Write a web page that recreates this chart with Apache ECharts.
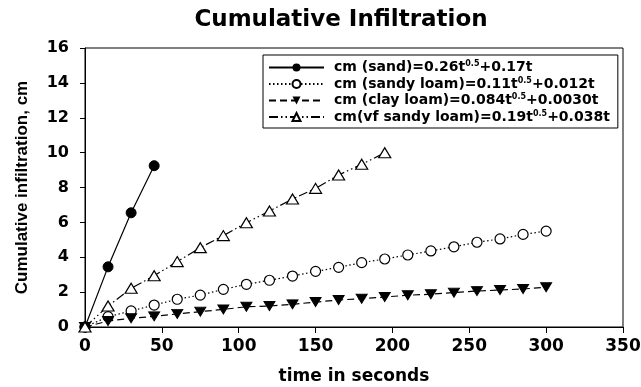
<!DOCTYPE html>
<html>
<head>
<meta charset="utf-8">
<script src="https://cdn.jsdelivr.net/npm/echarts@6/dist/echarts.min.js"></script>
<style>
  html, body { margin: 0; padding: 0; background: #fff; }
  #chart { width: 641px; height: 387px; }
</style>
</head>
<body>
<div id="chart"></div>
<script>
// time in seconds
const sandTime = [0, 15, 30, 45];
const loamTime = [0, 15, 30, 45, 60, 75, 90, 105, 120, 135, 150, 165, 180, 195, 210, 225, 240, 255, 270, 285, 300];
const vfTime = [0, 15, 30, 45, 60, 75, 90, 105, 120, 135, 150, 165, 180, 195];

// cumulative infiltration, cm
const sand = [0, 3.45, 6.55, 9.25];
const sandyLoam = [0, 0.59, 0.92, 1.26, 1.59, 1.83, 2.16, 2.45, 2.68, 2.92, 3.19, 3.42, 3.69, 3.9, 4.13, 4.36, 4.6, 4.86, 5.05, 5.31, 5.5];
const clayLoam = [0, 0.34, 0.5, 0.61, 0.75, 0.88, 1.01, 1.16, 1.2, 1.3, 1.43, 1.55, 1.62, 1.72, 1.82, 1.88, 1.97, 2.06, 2.12, 2.18, 2.28];
const vfSandyLoam = [0, 1.2, 2.22, 2.94, 3.75, 4.55, 5.24, 5.98, 6.65, 7.34, 7.95, 8.72, 9.33, 9.99];

const names = ['sand', 'sandyLoam', 'clayLoam', 'vf'];
const legendText = {
    sand: 'cm (sand)=0.26t{sup|0.5}+0.17t',
    sandyLoam: 'cm (sandy loam)=0.11t{sup|0.5}+0.012t',
    clayLoam: 'cm (clay loam)=0.084t{sup|0.5}+0.0030t',
    vf: 'cm(vf sandy loam)=0.19t{sup|0.5}+0.038t'
};

const font = '"DejaVu Sans", sans-serif';
const narrowFont = '"Liberation Sans", Arial, sans-serif';

function pairs(t, v) {
    return t.map((x, i) => [x, v[i]]);
}

const chart = echarts.init(document.getElementById('chart'));

const axisCommon = {
    axisLine: { show: true, onZero: false, lineStyle: { color: '#000', width: 1 } },
    axisTick: { show: true, length: 5, lineStyle: { color: '#000' } },
    splitLine: { show: false }
};

const option = {
    backgroundColor: '#fff',
    animation: false,
    title: {
        text: 'Cumulative Infiltration',
        left: 336,
        top: 4,
        textAlign: 'center',
        textStyle: { color: '#000', fontFamily: font, fontWeight: 'bold', fontSize: 23 }
    },
    grid: {
        left: 85,
        right: 18,
        top: 48,
        bottom: 60,
        containLabel: false,
        outerBoundsMode: 'none',
        show: true,
        borderColor: '#000',
        borderWidth: 1
    },
    legend: {
        data: names,
        orient: 'vertical',
        left: 263,
        top: 55,
        width: 354,
        padding: [5, 8, 4, 5],
        itemGap: 2,
        itemWidth: 55,
        itemHeight: 10,
        borderColor: '#000',
        borderWidth: 1,
        formatter: n => legendText[n],
        textStyle: {
            color: '#000',
            fontFamily: font,
            fontWeight: 'bold',
            fontSize: 14,
            padding: [0, 0, 0, 5],
            rich: {
                sup: { fontSize: 8, fontWeight: 'bold', fontFamily: font, verticalAlign: 'top', padding: [0, 0, 7, 0] }
            }
        }
    },
    xAxis: Object.assign({}, axisCommon, {
        type: 'value',
        min: 0,
        max: 350,
        interval: 50,
        axisTick: { show: true, length: 6, lineStyle: { color: '#000' } },
        axisLabel: { color: '#000', fontFamily: font, fontWeight: 'bold', fontSize: 17, margin: 11 },
        name: 'time in seconds',
        nameLocation: 'middle',
        nameGap: 41,
        nameTextStyle: { color: '#000', fontFamily: font, fontWeight: 'bold', fontSize: 17 }
    }),
    yAxis: Object.assign({}, axisCommon, {
        type: 'value',
        min: 0,
        max: 16,
        interval: 2,
        axisLabel: { color: '#000', fontFamily: font, fontWeight: 'bold', fontSize: 16, margin: 16 },
        name: 'Cumulative infiltration, cm',
        nameLocation: 'middle',
        nameGap: 54,
        nameTextStyle: { color: '#000', fontFamily: narrowFont, fontWeight: 'bold', fontSize: 17 }
    }),
    series: [
        {
            name: 'sand',
            type: 'line',
            data: pairs(sandTime, sand),
            symbol: 'circle',
            symbolSize: 10,
            color: '#000',
            itemStyle: { color: '#000', borderColor: '#000' },
            lineStyle: { color: '#000', width: 1.2, type: 'solid' },
            z: 4
        },
        {
            name: 'sandyLoam',
            type: 'line',
            data: pairs(loamTime, sandyLoam),
            symbol: 'circle',
            symbolSize: 10,
            color: '#000',
            itemStyle: { color: '#fff', borderColor: '#000', borderWidth: 1.2 },
            lineStyle: { color: '#000', width: 1.2, type: [1.5, 2.5] },
            z: 3
        },
        {
            name: 'clayLoam',
            type: 'line',
            data: pairs(loamTime, clayLoam),
            symbol: 'triangle',
            symbolRotate: 180,
            symbolSize: [11, 9],
            color: '#000',
            itemStyle: { color: '#000', borderColor: '#000' },
            lineStyle: { color: '#000', width: 1.2, type: [7, 4] },
            z: 3
        },
        {
            name: 'vf',
            type: 'line',
            data: pairs(vfTime, vfSandyLoam),
            symbol: 'triangle',
            symbolSize: [12, 10],
            color: '#000',
            itemStyle: { color: '#fff', borderColor: '#000', borderWidth: 1.2 },
            lineStyle: { color: '#000', width: 1.2, type: [9, 3, 1.5, 3, 1.5, 3] },
            z: 5
        }
    ]
};

chart.setOption(option);
</script>
</body>
</html>
